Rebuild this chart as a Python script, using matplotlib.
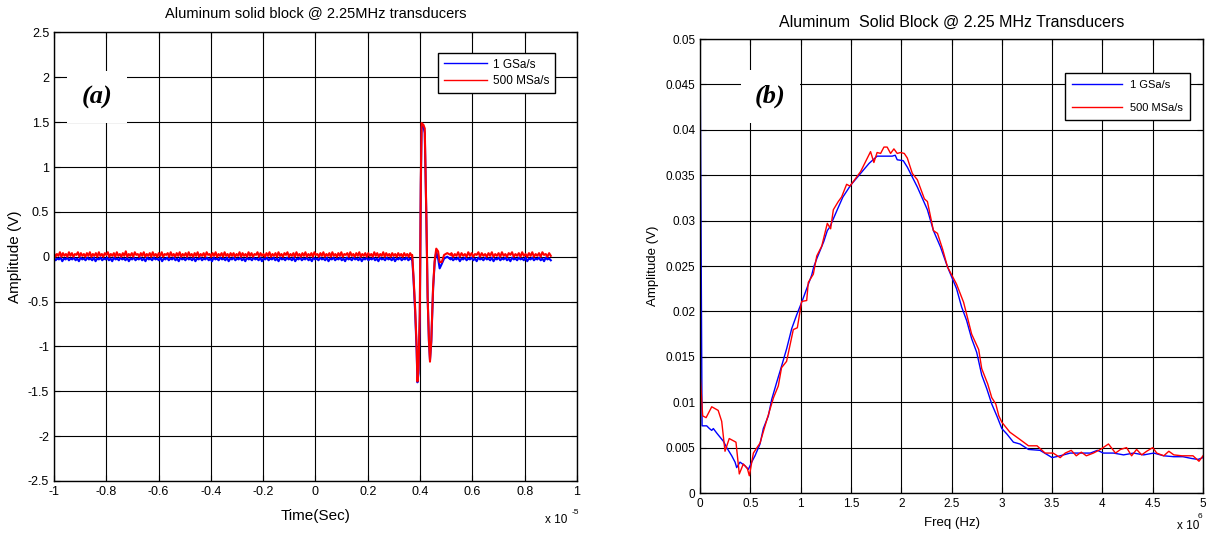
import numpy as np
import matplotlib.pyplot as plt

plt.rcParams['font.family'] = ['Liberation Sans', 'DejaVu Sans']

# ---- (a) time domain, time in units of 1e-5 s ----
# baseline noise, hundredths of a volt
red_pre = [4, 0, 3, 1, 5, 0, 4, 1, 3, 0, 5, 1, 4, 0, 3, 2, 5, 0, 4, 1, 3, 0, 4, 1, 5, 0, 3, 1, 4, 0,
           5, 1, 3, 0, 4, 2, 5, 0, 3, 1, 4, 0, 5, 1, 3, 0, 4, 1, 6, 0, 3, 1, 4, 0, 5, 2, 3, 0, 4, 1,
           5, 0, 3, 1, 4, 0, 5, 1, 3, 0, 4, 1, 5, 0, 3, 2, 4, 0, 5, 1, 3, 0, 4, 1, 5, 0, 3, 1, 4, 0,
           5, 1, 3, 0, 4, 1, 5, 0, 3, 1, 4, 0, 5, 2, 3, 0, 4, 1, 5, 0, 3, 1, 4, 0, 5, 1, 3, 0, 4, 1,
           4, 0, 3, 1, 5, 0, 4, 1, 3, 0, 5, 1, 4, 0, 3, 2, 5, 0, 4, 1, 3, 0, 4, 1, 5, 0, 3, 1, 4, 0,
           5, 1, 3, 0, 4, 2, 5, 0, 3, 1, 4, 0, 5, 1, 3, 0, 4, 1, 5, 0, 3, 1, 4, 0, 5, 2, 3, 0, 4, 1,
           5, 0, 3, 1, 4, 0, 5, 1, 3, 0, 4, 1, 5, 0, 3, 2, 4, 0, 5, 1, 3, 0, 4, 1, 5, 0, 3, 1, 4, 0,
           4, 1, 3, 0, 5, 1, 4, 0, 3, 1, 5, 0, 4, 1, 3, 0, 4, 1, 3, 0, 4, 1, 3, 0, 4, 1, 3, 0, 4, 1]
blue_pre = [-1, -4, -2, -3, -1, -5, -2, -3, -1, -4, -2, -3, -1, -4, -2, -5, -1, -3, -2, -4, -1, -3, -2, -4,
            -1, -5, -2, -3, -1, -4, -2, -3, -1, -4, -2, -5, -1, -3, -2, -4, -1, -3, -2, -4, -1, -5, -2, -3,
            -1, -4, -2, -3, -1, -4, -2, -5, -1, -3, -2, -4, -1, -3, -2, -4, -1, -5, -2, -3, -1, -4, -2, -3,
            -1, -4, -2, -5, -1, -3, -2, -4, -1, -3, -2, -4, -1, -5, -2, -3, -1, -4, -2, -3, -1, -4, -2, -5,
            -1, -3, -2, -4, -1, -3, -2, -4, -1, -5, -2, -3, -1, -4, -2, -3, -1, -4, -2, -5, -1, -3, -2, -4,
            -1, -3, -2, -4, -1, -5, -2, -3, -1, -4, -2, -3, -1, -4, -2, -5, -1, -3, -2, -4, -1, -3, -2, -4,
            -1, -5, -2, -3, -1, -4, -2, -3, -1, -4, -2, -5, -1, -3, -2, -4, -1, -3, -2, -4, -1, -5, -2, -3,
            -1, -4, -2, -3, -1, -4, -2, -5, -1, -3, -2, -4, -1, -3, -2, -4, -1, -5, -2, -3, -1, -4, -2, -3,
            -1, -4, -2, -5, -1, -3, -2, -4, -1, -3, -2, -4, -1, -5, -2, -3, -1, -4, -2, -3, -1, -4, -2, -3]
red_post = [4, 0, 3, 1, 5, 0, 4, 1, 3, 0, 5, 1, 4, 0, 3, 2, 5, 0, 4, 1, 3, 0, 4, 1, 5, 0, 3, 1, 4, 0,
            5, 1, 3, 0, 4, 2, 5, 0, 3, 1, 4, 0, 5, 1, 3, 0, 4, 1, 5, 0, 3, 1, 4, 0, 5, 2, 3, 0, 4, 1]
blue_post = [-1, -4, -2, -3, -1, -5, -2, -3, -1, -4, -2, -3, -1, -4, -2, -5, -1, -3, -2, -4, -1, -3, -2, -4,
             -1, -5, -2, -3, -1, -4, -2, -3, -1, -4, -2, -5, -1, -3, -2, -4, -1, -3, -2, -4, -1, -5, -2, -3,
             -1, -4, -2, -3, -1, -4, -2, -5, -1, -3, -2, -4]

t_red_pulse = [0.370, 0.375, 0.381, 0.387, 0.390, 0.394, 0.399, 0.403, 0.406, 0.413, 0.418, 0.424, 0.429,
               0.434, 0.438, 0.443, 0.450, 0.456, 0.462, 0.469, 0.475, 0.483, 0.492, 0.504, 0.517]
v_red_pulse = [0.02, -0.22, -0.56, -1.00, -1.39, -1.26, -0.63, 0.86, 1.49, 1.47, 1.43, 0.48, -0.45,
               -0.93, -1.17, -0.93, -0.33, -0.04, 0.09, 0.06, -0.06, -0.06, 0.02, 0.04, 0.02]
t_blue_pulse = [0.370, 0.375, 0.381, 0.387, 0.390, 0.394, 0.399, 0.403, 0.406, 0.413, 0.418, 0.424, 0.429,
                0.434, 0.438, 0.443, 0.450, 0.456, 0.462, 0.469, 0.475, 0.483, 0.492, 0.504, 0.517]
v_blue_pulse = [-0.02, -0.25, -0.60, -1.05, -1.40, -1.30, -0.70, 0.80, 1.45, 1.45, 1.38, 0.45, -0.45,
                -0.95, -1.15, -0.95, -0.35, -0.06, 0.05, -0.02, -0.13, -0.08, -0.02, 0.00, -0.03]

# ---- (b) spectrum, freq in units of 1e6 Hz ----
f_blue = [0.0, 0.02, 0.066, 0.093, 0.116, 0.132, 0.166, 0.232, 0.265, 0.315, 0.348, 0.364, 0.397, 0.447,
          0.48, 0.513, 0.546, 0.596, 0.629, 0.679, 0.712, 0.762, 0.811, 0.861, 0.911, 0.96, 1.01, 1.06,
          1.11, 1.13, 1.16, 1.23, 1.265, 1.29, 1.364, 1.42, 1.497, 1.596, 1.68, 1.76, 1.91, 1.94, 1.96,
          2.02, 2.06, 2.16, 2.26, 2.32, 2.39, 2.46, 2.55, 2.6, 2.65, 2.7, 2.75, 2.8, 2.85, 2.9, 2.95,
          3.0, 3.05, 3.115, 3.18, 3.265, 3.38, 3.5, 3.58, 3.68, 3.78, 3.88, 3.95, 4.01, 4.11, 4.21,
          4.31, 4.41, 4.51, 4.61, 4.71, 4.8, 4.89, 4.95, 5.0]
a_blue = [0.0495, 0.0074, 0.0074, 0.0071, 0.0069, 0.0071, 0.0066, 0.0057, 0.0050, 0.0041, 0.0034, 0.0028,
          0.0034, 0.0030, 0.0026, 0.0034, 0.0041, 0.0054, 0.0071, 0.0085, 0.0103, 0.0122, 0.0140, 0.0159,
          0.0181, 0.0196, 0.0210, 0.0225, 0.0240, 0.0249, 0.0258, 0.0277, 0.0289, 0.0293, 0.0312, 0.0326,
          0.0339, 0.0352, 0.0363, 0.0371, 0.0371, 0.0372, 0.0367, 0.0366, 0.0359, 0.0337, 0.0312, 0.0289,
          0.0271, 0.0249, 0.0225, 0.0205, 0.0190, 0.0170, 0.0155, 0.0130, 0.0115, 0.0098, 0.0085,
          0.0071, 0.0065, 0.0056, 0.0054, 0.0048, 0.0047, 0.0039, 0.0041, 0.0044, 0.0044, 0.0044, 0.0047,
          0.0044, 0.0044, 0.0042, 0.0044, 0.0042, 0.0044, 0.0041, 0.0040, 0.0040, 0.0038, 0.0037, 0.0039]
f_red = [0.0, 0.026, 0.06, 0.116, 0.18, 0.215, 0.248, 0.29, 0.357, 0.39, 0.43, 0.47, 0.49, 0.53, 0.596,
         0.646, 0.73, 0.778, 0.81, 0.86, 0.927, 0.967, 1.01, 1.06, 1.076, 1.126, 1.16, 1.21, 1.265, 1.298,
         1.325, 1.374, 1.407, 1.457, 1.49, 1.596, 1.695, 1.728, 1.76, 1.795, 1.828, 1.86, 1.894, 1.927,
         1.96, 1.993, 2.03, 2.06, 2.11, 2.16, 2.23, 2.26, 2.32, 2.36, 2.41, 2.46, 2.55, 2.62, 2.7, 2.77,
         2.8, 2.86, 2.9, 2.94, 2.97, 3.0, 3.08, 3.18, 3.265, 3.35, 3.43, 3.51, 3.58, 3.63, 3.69, 3.74,
         3.79, 3.84, 3.91, 3.98, 4.06, 4.13, 4.18, 4.24, 4.29, 4.34, 4.39, 4.44, 4.5, 4.54, 4.61, 4.66,
         4.71, 4.79, 4.9, 4.96, 5.0]
a_red = [0.0132, 0.0085, 0.0083, 0.0095, 0.0091, 0.0079, 0.0046, 0.0060, 0.0056, 0.0021, 0.0032, 0.0027,
         0.0019, 0.0044, 0.0055, 0.0074, 0.0105, 0.0118, 0.0138, 0.0145, 0.0180, 0.0182, 0.0211, 0.0212,
         0.0232, 0.0241, 0.0261, 0.0272, 0.0297, 0.0291, 0.0312, 0.0321, 0.0326, 0.0340, 0.0338, 0.0354,
         0.0376, 0.0364, 0.0375, 0.0374, 0.0381, 0.0381, 0.0374, 0.0379, 0.0374, 0.0375, 0.0374, 0.0369,
         0.0352, 0.0345, 0.0324, 0.0321, 0.0289, 0.0286, 0.0269, 0.0249, 0.0230, 0.0210, 0.0175, 0.0158,
         0.0137, 0.0120, 0.0105, 0.0098, 0.0085, 0.0078, 0.0067, 0.0059, 0.0052, 0.0052, 0.0044, 0.0044,
         0.0039, 0.0044, 0.0047, 0.0041, 0.0045, 0.0041, 0.0044, 0.0048, 0.0054, 0.0044, 0.0048, 0.0050,
         0.0041, 0.0048, 0.0042, 0.0046, 0.0050, 0.0044, 0.0041, 0.0046, 0.0042, 0.0041, 0.0041, 0.0035,
         0.0041]

BLUE = '#0000ff'
RED = '#ff0000'


def matlab_axes(ax, size):
    ax.grid(True, color='black', linestyle='-', linewidth=0.8)
    ax.set_axisbelow(True)
    ax.tick_params(direction='in', top=True, right=True, labelsize=size, length=4, width=0.8)
    for s in ax.spines.values():
        s.set_linewidth(1.0)


fig = plt.figure(figsize=(12.07, 5.33), dpi=100)
ax1 = fig.add_axes([0.0447, 0.0976, 0.4333, 0.8415])
ax2 = fig.add_axes([0.58, 0.075, 0.4167, 0.8518])

# time axis for (a)
t_b = np.concatenate([np.linspace(-1, 0.368, len(blue_pre)), t_blue_pulse,
                      np.linspace(0.52, 0.9, len(blue_post))])
v_b = np.concatenate([np.array(blue_pre) / 100, v_blue_pulse, np.array(blue_post) / 100])
t_r = np.concatenate([np.linspace(-1, 0.368, len(red_pre)), t_red_pulse,
                      np.linspace(0.52, 0.9, len(red_post))])
v_r = np.concatenate([np.array(red_pre) / 100, v_red_pulse, np.array(red_post) / 100])

ax1.plot(t_b, v_b, color=BLUE, lw=1.5, label='1 GSa/s')
ax1.plot(t_r, v_r, color=RED, lw=1.5, label='500 MSa/s')
ax1.set_xlim(-1, 1)
ax1.set_ylim(-2.5, 2.5)
ax1.set_xticks(np.arange(-1, 1.01, 0.2))
ax1.set_xticklabels(['-1', '-0.8', '-0.6', '-0.4', '-0.2', '0', '0.2', '0.4', '0.6', '0.8', '1'])
ax1.set_yticks(np.arange(-2.5, 2.51, 0.5))
ax1.set_yticklabels(['-2.5', '-2', '-1.5', '-1', '-0.5', '0', '0.5', '1', '1.5', '2', '2.5'])
matlab_axes(ax1, 9)
ax1.set_title('Aluminum solid block @ 2.25MHz transducers', fontsize=10.5, pad=11)
ax1.set_xlabel('Time(Sec)', fontsize=11, labelpad=8)
ax1.set_ylabel('Amplitude (V)', fontsize=11, labelpad=4)
leg1 = ax1.legend(loc='upper right', bbox_to_anchor=(0.958, 0.955), borderaxespad=0, fontsize=8.5,
                  fancybox=False, edgecolor='black', framealpha=1, handlelength=3.6, borderpad=0.5,
                  labelspacing=0.4, handletextpad=0.5)
leg1.get_frame().set_linewidth(1.0)
for line in leg1.get_lines():
    line.set_linewidth(1.0)
ax1.text(-0.836, 1.78, '(a)', fontsize=19, fontweight='bold', fontstyle='italic',
         family=['Liberation Serif', 'DejaVu Serif'], ha='center', va='center',
         bbox=dict(boxstyle='square,pad=0.55', facecolor='white', edgecolor='none'))
fig.text(545 / 1207, 1 - 520 / 533, 'x 10', fontsize=8.5, ha='left', va='center')
fig.text(572 / 1207, 1 - 512 / 533, '-5', fontsize=6, ha='left', va='center')

# spectrum (b)
ax2.plot(f_blue, a_blue, color=BLUE, lw=1.0, label='1 GSa/s')
ax2.plot(f_red, a_red, color=RED, lw=1.0, label='500 MSa/s')
ax2.set_xlim(0, 5)
ax2.set_ylim(0, 0.05)
ax2.set_xticks(np.arange(0, 5.01, 0.5))
ax2.set_xticklabels(['0', '0.5', '1', '1.5', '2', '2.5', '3', '3.5', '4', '4.5', '5'])
ax2.set_yticks(np.arange(0, 0.0501, 0.005))
ax2.set_yticklabels(['0', '0.005', '0.01', '0.015', '0.02', '0.025', '0.03', '0.035', '0.04', '0.045',
                     '0.05'])
matlab_axes(ax2, 8.5)
ax2.set_title('Aluminum  Solid Block @ 2.25 MHz Transducers', fontsize=11.5, pad=9)
ax2.set_xlabel('Freq (Hz)', fontsize=9.5, labelpad=5)
ax2.set_ylabel('Amplitude (V)', fontsize=9.5, labelpad=5)
leg2 = ax2.legend(loc='upper right', bbox_to_anchor=(0.974, 0.925), borderaxespad=0, fontsize=8,
                  fancybox=False, edgecolor='black', framealpha=1, handlelength=4.5, borderpad=0.6,
                  labelspacing=1.2)
leg2.get_frame().set_linewidth(1.0)
ax2.text(0.7, 0.04365, '(b)', fontsize=19, fontweight='bold', fontstyle='italic',
         family=['Liberation Serif', 'DejaVu Serif'], ha='center', va='center',
         bbox=dict(boxstyle='square,pad=0.55', facecolor='white', edgecolor='none'))
fig.text(1177 / 1207, 1 - 526 / 533, 'x 10', fontsize=8.5, ha='left', va='center')
fig.text(1198 / 1207, 1 - 517 / 533, '6', fontsize=6, ha='left', va='center')

fig.savefig('out.png', dpi=100)
